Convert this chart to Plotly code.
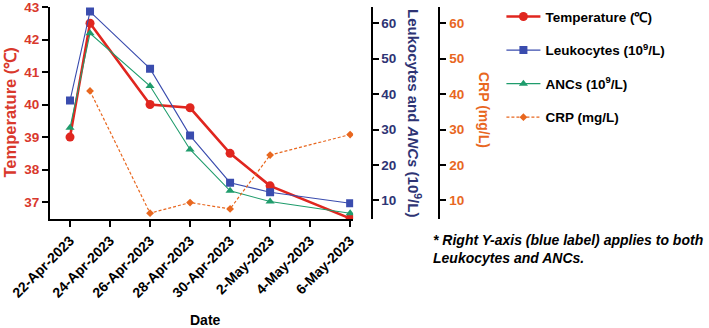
import plotly.graph_objects as go

dates = ["2023-04-22", "2023-04-23", "2023-04-26", "2023-04-28", "2023-04-30", "2023-05-02", "2023-05-06"]
temperature = [39.0, 42.5, 40.0, 39.9, 38.5, 37.5, 36.5]
leukocytes = [38.2, 63.3, 47.2, 28.3, 15.0, 12.3, 9.2]
ancs = [30.5, 57.2, 42.3, 24.4, 12.7, 9.7, 6.4]
crp_dates = ["2023-04-23", "2023-04-26", "2023-04-28", "2023-04-30", "2023-05-02", "2023-05-06"]
crp = [40.9, 6.4, 9.4, 7.6, 22.8, 28.6]

tick_dates = ["2023-04-22", "2023-04-24", "2023-04-26", "2023-04-28", "2023-04-30", "2023-05-02", "2023-05-04", "2023-05-06"]
tick_labels = ["22-Apr-2023", "24-Apr-2023", "26-Apr-2023", "28-Apr-2023", "30-Apr-2023", "2-May-2023", "4-May-2023", "6-May-2023"]

RED = "#e0261f"
RED_T = "#d9382c"
BLUE = "#3a4cae"
NAVY = "#2e3474"
GREEN = "#1f9c6c"
ORANGE = "#e8671f"
FONT = "Liberation Sans"

fig = go.Figure()
fig.add_trace(go.Scatter(x=dates, y=temperature, name="Temperature (℃)", mode="lines+markers",
                         line=dict(color=RED, width=2.6), marker=dict(symbol="circle", size=9, color=RED),
                         yaxis="y", legendgroup="a"))
fig.add_trace(go.Scatter(x=dates, y=leukocytes, name="Leukocytes (10<sup>9</sup>/L)", mode="lines+markers",
                         line=dict(color=BLUE, width=1.1), marker=dict(symbol="square", size=8, color=BLUE),
                         yaxis="y2", legendgroup="b"))
fig.add_trace(go.Scatter(x=dates, y=ancs, name="ANCs (10<sup>9</sup>/L)", mode="lines+markers",
                         line=dict(color=GREEN, width=1.1), marker=dict(symbol="triangle-up", size=8, color=GREEN),
                         yaxis="y2", legendgroup="c"))
fig.add_trace(go.Scatter(x=crp_dates, y=crp, name="CRP (mg/L)", mode="lines+markers",
                         line=dict(color=ORANGE, width=1.2, dash="3px,2px"),
                         marker=dict(symbol="diamond", size=6, color=ORANGE),
                         yaxis="y3", legendgroup="d"))

axis_common = dict(showline=True, linewidth=2, linecolor="black", ticks="outside", ticklen=6,
                   tickwidth=2, tickcolor="black", showgrid=False, zeroline=False, automargin=False,
                   ticklabeloverflow="allow")

fig.update_layout(
    width=709, height=328,
    margin=dict(l=50, r=0, t=7, b=109),
    paper_bgcolor="white", plot_bgcolor="white",
    font=dict(family=FONT, color="black"),
    xaxis=dict(domain=[0, 0.46], type="date", range=["2023-04-21", "2023-05-06 03:36"],
               tickvals=tick_dates, ticktext=tick_labels, tickangle=-45,
               tickfont=dict(family=FONT, size=14, color="black", weight="bold"),
               **axis_common),
    yaxis=dict(range=[36.48, 43.0], tickvals=[37, 38, 39, 40, 41, 42, 43],
               tickfont=dict(family=FONT, size=13.5, color=RED_T, weight="bold"), **axis_common),
    yaxis2=dict(range=[4.76, 64.6], tickvals=[10, 20, 30, 40, 50, 60], overlaying="y", side="right",
                anchor="free", position=0.488,
                tickfont=dict(family=FONT, size=13.5, color=NAVY, weight="bold"), **axis_common),
    yaxis3=dict(range=[4.76, 64.6], tickvals=[10, 20, 30, 40, 50, 60], overlaying="y", side="right",
                anchor="free", position=0.591,
                tickfont=dict(family=FONT, size=13.5, color=ORANGE, weight="bold"), **axis_common),
    legend=dict(x=0.685, y=1.027, xanchor="left", yanchor="top", bgcolor="rgba(0,0,0,0)",
                font=dict(family=FONT, size=13.5, color="black", weight="bold"),
                tracegroupgap=13, itemwidth=34),
    annotations=[
        dict(text="Temperature (℃)", x=9.5, y=113, showarrow=False, xanchor="center", yanchor="middle",
             textangle=-90, font=dict(family=FONT, size=16.5, color=RED_T, weight="bold")),
        dict(text="Leukocytes and <i>ANCs</i> (10<sup>9</sup>/L)", x=415, y=113, showarrow=False,
             xanchor="center", yanchor="middle",
             textangle=90, font=dict(family=FONT, size=15, color=NAVY, weight="bold")),
        dict(text="CRP (mg/L)", x=484, y=110, showarrow=False, xanchor="center", yanchor="middle",
             textangle=90, font=dict(family=FONT, size=14, color=ORANGE, weight="bold")),
        dict(text="Date", x=205, y=320, showarrow=False, xanchor="center", yanchor="middle",
             font=dict(family=FONT, size=14, color="black", weight="bold")),
        dict(text="<i>* Right Y-axis (blue label) applies to both<br>Leukocytes and ANCs.</i>",
             x=431, y=249, showarrow=False, xanchor="left", yanchor="middle", align="left",
             font=dict(family=FONT, size=14, color="black", weight="bold")),
    ],
)

# convert pixel positions of annotations to paper coordinates
plot_w = 709 - 50
plot_h = 328 - 7 - 109
for ann in fig.layout.annotations:
    px, py = ann.x, ann.y
    ann.x = (px - 50) / plot_w
    ann.y = (328 - 109 - py) / plot_h
    ann.xref = "paper"
    ann.yref = "paper"

fig.write_html("out.html", config={"displayModeBar": False},
               post_script="document.body.style.margin='0px';document.body.style.overflow='hidden';")
